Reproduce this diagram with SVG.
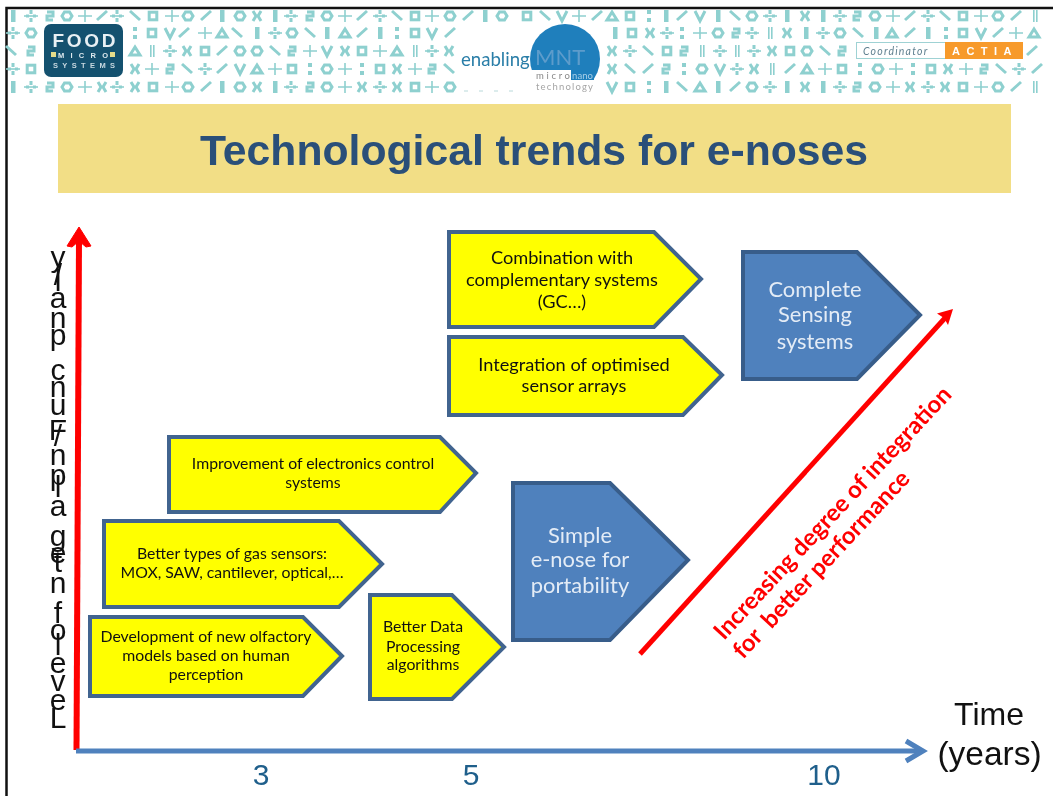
<svg xmlns="http://www.w3.org/2000/svg" width="1053" height="796" viewBox="0 0 1053 796">
<style>
.y{fill:#ffff00;stroke:#41648f;stroke-width:4;stroke-linejoin:miter}
.b{fill:#4f81bd;stroke:#385d8a;stroke-width:4}
.t{font-family:Lato,"Liberation Sans",sans-serif;font-size:15.800px;fill:#111;text-anchor:middle}
.u{font-size:18.200px}
.w{font-family:Lato,"Liberation Sans",sans-serif;font-size:21.900px;fill:#e4ecf6;text-anchor:middle}
.r{font-family:Lato,"Liberation Sans",sans-serif;font-size:23.800px;font-weight:700;fill:#ff0000}
.a{font-family:"Liberation Sans",Arial,sans-serif}
.n{font-size:30px;fill:#1f5f8b;text-anchor:middle}
.k{font-size:32px;fill:#111;text-anchor:middle}
.p{fill:#8ed0cf;stroke:none}
.q{fill:none;stroke:#8ed0cf;stroke-width:3}
.h{fill:none;stroke:#8ed0cf;stroke-width:1.6}
.l{font-family:Lato,"Liberation Sans",sans-serif;font-size:9.500px}
</style>
<defs>
<filter id="soft" x="-2%" y="-10%" width="104%" height="120%"><feGaussianBlur stdDeviation="0.45"/></filter>
<g id="a"><rect class="p" x="-2" y="-6" width="4.5" height="12"/></g>
<g id="b"><path class="h" d="M-7 0H7"/><rect class="p" x="-1.500" y="-6" width="3" height="4"/><rect class="p" x="-1.500" y="2" width="3" height="4"/><rect class="p" x="-5" y="-1.500" width="3" height="3"/><rect class="p" x="2" y="-1.500" width="3" height="3"/></g>
<g id="c"><path class="q" d="M-3 -4H3V0H-3V4H3"/></g>
<g id="d"><path class="q" d="M-2.500 -4H2.500L5 0L2.500 4H-2.500L-5 0Z"/></g>
<g id="e"><path class="q" d="M-5 4L5 -5"/></g>
<g id="f"><path class="h" d="M-7 0H7M0 -6V6"/></g>
<g id="g"><path class="q" d="M-5 -5L5 4"/></g>
<g id="h"><rect class="q" x="-3.800" y="-3.800" width="7.600" height="7.600"/></g>
<g id="i"><path class="q" d="M-4 -5L-1 0L-4 5M4 -5L1 0L4 5"/></g>
<g id="j"><path class="q" d="M0 -4L5 4H-5Z"/></g>
<g id="k"><path class="q" d="M-5 -5L0 5L5 -5"/></g>
<g id="l"><rect class="p" x="-2" y="-6" width="4" height="4"/><rect class="p" x="-2" y="2" width="4" height="4"/></g>
<g id="m"><rect class="p" x="-2" y="-6" width="1.600" height="12"/><rect class="p" x="1" y="-6" width="1.600" height="12"/></g>
</defs>
<rect width="1053" height="796" fill="#ffffff"/>
<path d="M6.500 796V8H1053" fill="none" stroke="#111" stroke-width="2.500"/>
<g id="banner" filter="url(#soft)">
<g id="row1" transform="translate(0,16)"><use href="#a" x="13"/><use href="#b" x="31"/><use href="#c" x="50"/><use href="#d" x="67"/><use href="#f" x="85"/><use href="#e" x="102"/><use href="#b" x="117"/><use href="#g" x="135"/><use href="#h" x="153"/><use href="#f" x="172"/><use href="#d" x="188"/><use href="#e" x="206"/><use href="#a" x="222"/><use href="#d" x="240"/><use href="#i" x="257"/><use href="#a" x="275"/><use href="#b" x="291"/><use href="#c" x="310"/><use href="#d" x="327"/><use href="#f" x="345"/><use href="#e" x="362"/><use href="#b" x="380"/><use href="#g" x="397"/><use href="#h" x="415"/><use href="#f" x="432"/><use href="#d" x="450"/><use href="#e" x="468"/><use href="#a" x="485"/><use href="#d" x="502"/><use href="#h" x="527"/><use href="#g" x="545"/><use href="#k" x="562"/><use href="#f" x="579"/><use href="#e" x="597"/><use href="#j" x="612"/><use href="#h" x="630"/><use href="#l" x="649"/><use href="#a" x="666"/><use href="#e" x="682"/><use href="#k" x="700"/><use href="#a" x="718"/><use href="#g" x="735"/><use href="#d" x="752"/><use href="#b" x="770"/><use href="#a" x="787"/><use href="#i" x="805"/><use href="#a" x="823"/><use href="#b" x="840"/><use href="#c" x="857"/><use href="#d" x="875"/><use href="#f" x="893"/><use href="#e" x="910"/><use href="#b" x="928"/><use href="#g" x="945"/><use href="#h" x="963"/><use href="#f" x="981"/><use href="#d" x="998"/><use href="#e" x="1016"/><use href="#m" x="1035"/></g>
<g id="row2" transform="translate(0,33)"><use href="#b" x="13"/><use href="#d" x="31"/><use href="#l" x="135"/><use href="#h" x="152"/><use href="#k" x="170"/><use href="#e" x="184"/><use href="#f" x="205"/><use href="#j" x="222"/><use href="#g" x="237"/><use href="#a" x="257"/><use href="#b" x="275"/><use href="#d" x="292"/><use href="#g" x="310"/><use href="#a" x="327"/><use href="#j" x="345"/><use href="#e" x="362"/><use href="#a" x="380"/><use href="#l" x="397"/><use href="#h" x="415"/><use href="#k" x="432"/><use href="#e" x="450"/><use href="#a" x="615"/><use href="#h" x="632"/><use href="#i" x="650"/><use href="#b" x="667"/><use href="#l" x="682"/><use href="#f" x="700"/><use href="#d" x="718"/><use href="#c" x="736"/><use href="#b" x="752"/><use href="#m" x="770"/><use href="#i" x="787"/><use href="#a" x="806"/><use href="#b" x="823"/><use href="#d" x="840"/><use href="#g" x="858"/><use href="#a" x="876"/><use href="#j" x="892"/><use href="#e" x="910"/><use href="#a" x="928"/><use href="#l" x="946"/><use href="#h" x="963"/><use href="#k" x="981"/><use href="#e" x="998"/><use href="#f" x="1016"/><use href="#j" x="1034"/></g>
<g id="row3" transform="translate(0,51)"><use href="#g" x="11"/><use href="#c" x="31"/><use href="#j" x="135"/><use href="#m" x="152"/><use href="#b" x="170"/><use href="#i" x="187"/><use href="#h" x="205"/><use href="#e" x="222"/><use href="#d" x="240"/><use href="#d" x="257"/><use href="#g" x="275"/><use href="#c" x="292"/><use href="#f" x="310"/><use href="#k" x="327"/><use href="#i" x="345"/><use href="#h" x="362"/><use href="#f" x="380"/><use href="#j" x="397"/><use href="#m" x="415"/><use href="#b" x="432"/><use href="#i" x="449"/><use href="#i" x="612"/><use href="#b" x="630"/><use href="#g" x="648"/><use href="#h" x="667"/><use href="#c" x="684"/><use href="#m" x="702"/><use href="#b" x="720"/><use href="#m" x="737"/><use href="#b" x="754"/><use href="#i" x="772"/><use href="#h" x="790"/><use href="#d" x="807"/><use href="#g" x="825"/><use href="#c" x="842"/><use href="#e" x="1032"/></g>
<g id="row4" transform="translate(0,69)"><use href="#b" x="13"/><use href="#h" x="31"/><use href="#i" x="135"/><use href="#f" x="152"/><use href="#c" x="170"/><use href="#g" x="187"/><use href="#b" x="205"/><use href="#e" x="222"/><use href="#k" x="240"/><use href="#j" x="257"/><use href="#f" x="275"/><use href="#h" x="292"/><use href="#l" x="310"/><use href="#d" x="327"/><use href="#f" x="345"/><use href="#l" x="362"/><use href="#h" x="380"/><use href="#i" x="397"/><use href="#f" x="415"/><use href="#c" x="432"/><use href="#g" x="449"/><use href="#i" x="612"/><use href="#g" x="630"/><use href="#e" x="648"/><use href="#c" x="666"/><use href="#l" x="684"/><use href="#d" x="702"/><use href="#k" x="720"/><use href="#b" x="737"/><use href="#i" x="754"/><use href="#m" x="772"/><use href="#e" x="790"/><use href="#j" x="807"/><use href="#f" x="825"/><use href="#h" x="842"/><use href="#l" x="860"/><use href="#d" x="878"/><use href="#f" x="896"/><use href="#l" x="913"/><use href="#h" x="931"/><use href="#i" x="948"/><use href="#f" x="966"/><use href="#c" x="984"/><use href="#g" x="1001"/><use href="#b" x="1019"/><use href="#e" x="1037"/></g>
<g id="row5" transform="translate(0,87)"><use href="#a" x="13"/><use href="#b" x="31"/><use href="#c" x="50"/><use href="#d" x="67"/><use href="#f" x="85"/><use href="#i" x="102"/><use href="#b" x="117"/><use href="#i" x="135"/><use href="#h" x="153"/><use href="#f" x="172"/><use href="#d" x="188"/><use href="#e" x="206"/><use href="#a" x="222"/><use href="#d" x="240"/><use href="#i" x="257"/><use href="#a" x="275"/><use href="#b" x="291"/><use href="#c" x="310"/><use href="#d" x="327"/><use href="#f" x="345"/><use href="#i" x="362"/><use href="#b" x="380"/><use href="#i" x="397"/><use href="#h" x="415"/><use href="#f" x="432"/><use href="#d" x="450"/><use href="#k" x="612"/><use href="#h" x="630"/><use href="#l" x="649"/><use href="#a" x="666"/><use href="#g" x="682"/><use href="#j" x="700"/><use href="#a" x="718"/><use href="#e" x="735"/><use href="#d" x="752"/><use href="#b" x="770"/><use href="#a" x="787"/><use href="#i" x="805"/><use href="#a" x="823"/><use href="#b" x="840"/><use href="#c" x="857"/><use href="#d" x="875"/><use href="#f" x="893"/><use href="#i" x="910"/><use href="#b" x="928"/><use href="#i" x="945"/><use href="#h" x="963"/><use href="#f" x="981"/><use href="#d" x="998"/><use href="#e" x="1016"/><use href="#m" x="1035"/></g>
<path d="M464 91h4M479 91h4M494 91h4M509 91h4M558 91h10" stroke="#b9d9da" stroke-width="1" fill="none"/>
</g>
<g id="food-logo">
<rect x="44" y="24" width="79" height="53" rx="7" fill="#14516f"/>
<text class="a" x="84" y="47" font-size="19" font-weight="700" fill="#e8f0f4" text-anchor="middle" textLength="63">FOOD</text>
<rect x="51" y="52" width="5" height="5" fill="#e6dc8a"/><rect x="110" y="52" width="5" height="5" fill="#e6dc8a"/>
<text class="a" x="83" y="57.500" font-size="7.500" font-weight="700" fill="#dce8ee" text-anchor="middle" textLength="50">MICRO</text>
<text class="a" x="84" y="68" font-size="7.500" font-weight="700" fill="#c8d8e0" text-anchor="middle" textLength="62">SYSTEMS</text>
</g>
<g id="mnt-logo">
<text x="461" y="66" font-family="Lato,'Liberation Sans',sans-serif" font-size="18.600" fill="#2a7ea8">enabling</text>
<circle cx="565" cy="59" r="35" fill="#1f7fbc"/>
<rect x="530" y="70" width="41" height="24" fill="#fff"/>
<rect x="530" y="80" width="72" height="14" fill="#fff"/>
<rect x="571" y="70" width="23" height="10" fill="#1f7fbc"/>
<text x="535" y="65" font-family="Lato,'Liberation Sans',sans-serif" font-size="22" fill="#5d9ccb">MNT</text>
<text class="l" x="536" y="79" fill="#888" textLength="34">micro</text>
<text class="l" x="572" y="79" fill="#a8cfe8" textLength="21">nano</text>
<text class="l" x="536" y="89.500" fill="#a5a5a5" textLength="57">technology</text>
</g>
<g id="actia-logo">
<rect x="856.500" y="42.500" width="166" height="16" fill="#fff" stroke="#9fd2d4"/>
<text x="863" y="55" font-family="Lato,'Liberation Sans',sans-serif" font-style="italic" font-size="10.500" fill="#5f7f8f" letter-spacing="1.200">Coordinator</text>
<rect x="945" y="42" width="78" height="17" fill="#f79a2b"/>
<text class="a" x="985" y="55" font-size="11" font-weight="700" fill="#fff" text-anchor="middle" letter-spacing="6.500">ACTIA</text>
</g>
<rect id="title-band" x="58" y="104" width="953" height="89" fill="#f2de86"/>
<text id="title" class="a" x="534" y="165" font-size="42.700" font-weight="700" fill="#2a4f79" text-anchor="middle">Technological trends for e-noses</text>
<g id="axis-label"><text class="a" font-size="30" fill="#111" text-anchor="middle" x="58 58 58 58 58 58 58 58 58 58 58 58 58 58 58 58 58 58 58 58 58 58 58 58 58 58" y="267 285 291 308 328 345 380 397 415 440 446 465 485 497 516 546 563 572 593 623 640 655 673 691 710 728">y/lanpcnuF/nplagetnfoleveL</text></g>
<g id="connectors">
<path d="M76.500 750L79 240" fill="none" stroke="#ff0000" stroke-width="6"/>
<path d="M79 227L91 246L86 247L79 241L72 247L67 246Z" fill="#ff0000" stroke="#ff0000" stroke-linejoin="round" stroke-width="1"/>
<path d="M76 751H922" fill="none" stroke="#4f81bd" stroke-width="5"/>
<path d="M906 741L923 751L906 761" fill="none" stroke="#4f81bd" stroke-width="5"/>
<path d="M640 654L945 318" fill="none" stroke="#ff0000" stroke-width="5"/>
<path d="M953 309L937 313.500L944 318L948 325Z" fill="#ff0000"/>
</g>
<g id="node-combination"><path class="y" d="M449 232H654L701 279L654 327H449Z"/><text class="t u" x="562" y="264">Combination with</text><text class="t u" x="562" y="286">complementary systems</text><text class="t u" x="562" y="308">(GC…)</text></g>
<g id="node-integration"><path class="y" d="M449 337H683L722 375L683 415H449Z"/><text class="t u" x="574" y="371">Integration of optimised</text><text class="t u" x="574" y="392">sensor arrays</text></g>
<g id="node-complete"><path class="b" d="M743 252H857L920 315L857 379H743Z"/><text class="w" x="815" y="297">Complete</text><text class="w" x="815" y="322">Sensing</text><text class="w" x="815" y="349">systems</text></g>
<g id="node-electronics"><path class="y" d="M169 437H440L476 473L440 512H169Z"/><text class="t" x="313" y="469">Improvement of electronics control</text><text class="t" x="313" y="488">systems</text></g>
<g id="node-sensors"><path class="y" d="M104 521H339L382 564L339 607H104Z"/><text class="t" x="232" y="559">Better types of gas sensors:</text><text class="t" x="232" y="578">MOX, SAW, cantilever, optical,…</text></g>
<g id="node-olfactory"><path class="y" d="M90 617H303L342 656L303 696H90Z"/><text class="t" x="206" y="642">Development of new olfactory</text><text class="t" x="206" y="661">models based on human</text><text class="t" x="206" y="680">perception</text></g>
<g id="node-processing"><path class="y" d="M370 595H452L504 647L452 699H370Z"/><text class="t" x="423" y="632">Better Data</text><text class="t" x="423" y="652">Processing</text><text class="t" x="423" y="670">algorithms</text></g>
<g id="node-simple"><path class="b" d="M513 483H610L688 560L610 640H513Z"/><text class="w" x="580" y="543">Simple</text><text class="w" x="580" y="567">e-nose for</text><text class="w" x="580" y="593">portability</text></g>
<text class="r" transform="translate(724,641) rotate(-47)">Increasing degree of integration</text>
<text class="r" transform="translate(743,660) rotate(-47)" xml:space="preserve">for  better performance</text>
<text class="a n" x="261" y="785">3</text>
<text class="a n" x="471" y="785">5</text>
<text class="a n" x="824" y="785">10</text>
<text class="a k" x="989" y="725">Time</text>
<text class="a k" x="989.500" y="765" style="font-size:33.500px">(years)</text>
</svg>
